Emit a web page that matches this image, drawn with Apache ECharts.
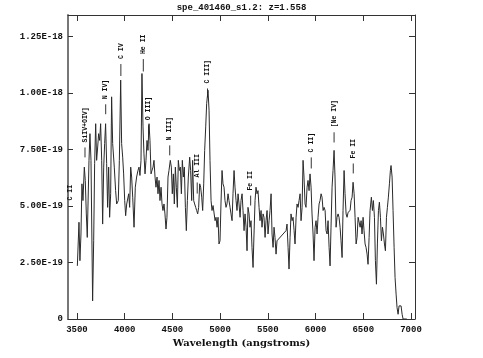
<!DOCTYPE html>
<html>
<head>
<meta charset="utf-8">
<script src="https://cdn.jsdelivr.net/npm/echarts@6/dist/echarts.min.js"></script>
<style>html,body{margin:0;padding:0;background:#fff;}#chart{width:483px;height:358px;}</style>
</head>
<body>
<div id="chart"></div>
<script>
// Wavelength (angstroms)
const wavelengths = [
3504,3521,3531,3542,3552,3563,3577,3587,3598,3608,
3626,3636,3647,3664,3675,3685,3696,3706,3717,3727,
3738,3748,3759,3769,3780,3790,3800,3811,3821,3832,
3842,3853,3863,3874,3891,3905,3916,3933,3944,3958,
3968,3979,3989,4000,4010,4021,4031,4042,4052,4063,
4073,4084,4098,4111,4125,4139,4150,4160,4171,4181,
4192,4202,4213,4223,4234,4244,4255,4265,4276,4286,
4297,4307,4318,4328,4339,4349,4360,4370,4381,4391,
4401,4412,4422,4433,4443,4454,4464,4478,4489,4499,
4510,4520,4531,4541,4552,4562,4573,4583,4594,4604,
4615,4625,4636,4646,4657,4667,4681,4691,4702,4712,
4723,4733,4744,4754,4765,4775,4786,4796,4807,4817,
4828,4838,4849,4859,4873,4884,4894,4905,4915,4926,
4936,4947,4957,4968,4978,4988,4999,5009,5020,5030,
5041,5051,5062,5072,5083,5093,5104,5114,5125,5135,
5146,5156,5167,5177,5188,5198,5209,5219,5230,5240,
5251,5261,5272,5282,5292,5303,5313,5324,5334,5345,
5355,5366,5376,5387,5397,5408,5418,5429,5439,5450,
5460,5471,5481,5492,5502,5513,5523,5534,5544,5555,
5565,5575,5586,5596,5607,5691,5701,5712,5722,5733,
5743,5754,5764,5775,5785,5796,5806,5817,5827,5838,
5848,5859,5869,5879,5890,5900,5911,5921,5932,5942,
5953,5963,5974,5984,5995,6005,6016,6026,6037,6047,
6058,6068,6079,6089,6100,6110,6121,6131,6142,6152,
6162,6173,6183,6194,6204,6215,6225,6236,6246,6257,
6267,6278,6288,6299,6309,6320,6330,6341,6351,6362,
6372,6383,6393,6404,6414,6425,6435,6446,6456,6467,
6477,6487,6498,6508,6519,6529,6540,6550,6561,6571,
6585,6596,6606,6617,6627,6638,6648,6659,6669,6680,
6690,6701,6711,6722,6732,6743,6753,6763,6774,6784,
6791,6802,6812,6823,6833,6844,6854,6865,6875,6886,
6896,6907,6917,6928,6956
];
// Flux in units of 1E-19
const fluxE19 = [
2.35,4.28,2.58,3.76,5.98,5.24,6.72,6.13,4.65,3.61,
7.02,8.20,7.02,0.80,3.46,6.87,8.64,7.02,7.61,8.20,
7.90,8.64,7.02,4.20,6.72,7.76,8.64,6.87,4.94,6.72,
4.50,5.54,9.83,7.76,6.72,5.68,5.09,5.24,7.02,10.57,
7.76,7.16,6.42,5.24,4.57,5.09,5.09,5.54,4.94,6.72,
6.28,5.39,4.06,5.83,6.28,6.57,6.72,6.35,7.02,10.86,
8.50,7.31,6.42,7.02,7.90,7.46,8.64,7.90,6.42,6.57,
6.72,7.02,6.28,5.83,6.28,5.54,6.13,5.24,5.83,5.09,
4.80,5.09,4.65,3.98,4.50,6.28,6.57,7.02,6.72,5.54,
6.42,5.09,6.72,5.83,4.94,7.02,6.57,6.72,5.54,7.02,
6.28,6.72,4.94,3.91,5.24,6.28,7.16,6.57,5.24,7.02,
5.24,5.09,4.94,4.80,4.65,4.94,5.98,5.83,5.39,4.80,
5.98,7.46,8.50,9.53,10.12,9.24,7.02,5.24,4.80,5.02,
4.94,4.35,4.50,4.06,4.50,3.32,3.46,5.09,6.57,5.98,
5.83,5.24,4.94,5.09,5.54,5.24,4.94,4.65,4.35,5.54,
6.57,5.83,5.24,4.80,5.54,5.09,4.50,5.24,5.54,4.80,
3.91,4.65,4.06,3.02,4.94,4.65,4.06,4.35,3.17,2.28,
3.76,5.24,5.83,5.54,5.68,4.94,4.35,4.80,4.06,4.65,
4.50,3.61,4.35,4.80,3.76,4.35,4.80,5.54,3.76,3.17,
4.06,3.61,2.87,3.46,3.39,3.91,4.20,3.17,2.21,3.61,
4.65,4.35,4.50,3.91,3.32,4.50,5.09,4.94,5.24,5.54,
4.35,4.94,7.02,6.28,5.09,4.94,5.83,6.13,5.68,6.42,
5.83,4.65,3.76,2.58,4.06,4.35,3.76,4.50,5.09,5.24,
5.54,5.39,4.80,4.94,4.80,3.91,3.76,4.35,3.17,2.35,
4.06,5.83,6.57,7.46,6.28,4.06,4.50,4.65,4.50,4.06,
3.46,2.72,4.80,6.57,5.54,4.65,4.50,4.72,4.65,4.80,
5.24,5.39,6.05,5.54,4.50,3.32,3.61,4.50,4.50,4.06,
4.35,3.76,4.50,3.91,3.32,3.17,2.87,2.42,3.61,4.80,
5.39,4.80,5.24,4.50,2.58,1.54,3.32,4.80,5.17,4.50,
3.46,4.06,3.76,3.32,3.02,4.50,4.94,5.39,5.98,6.57,
6.79,6.28,4.80,3.17,1.84,1.10,0.50,0.21,0.58,0.65,
0.58,0.21,0.00,0.00,0.00
];
// Emission line markers
const lineNames  = ['C II','SiIV+OIV]','N IV]','C IV','He II','O III]','N III]','Al III','C III]','Fe II','C II]','[Ne IV]','Fe II'];
const lineWaves  = [3427, 3584, 3801, 3960, 4195, 4250, 4472, 4760, 4868, 5320, 5955, 6194, 6395];
const lineLow    = [5.02, 7.15, 9.06, 10.75, 10.95, 8.13, 7.24, 5.55, 9.80, 5.02, 6.66, 7.81, 6.44];
const lineHigh   = [5.02, 7.59, 9.50, 11.28, 11.50, 8.57, 7.68, 6.04, 10.20, 5.46, 7.15, 8.26, 6.88];
const xTicks = [3500, 4000, 4500, 5000, 5500, 6000, 6500, 7000];
const yTicks = [0, 2.5, 5, 7.5, 10, 12.5];
const titleText = 'spe_401460_s1.2: z=1.558';

const spectrum = wavelengths.map((w, i) => [w, fluxE19[i]]);
const markers = lineNames.map((n, i) => [lineWaves[i], lineLow[i], lineHigh[i], n]);

const FONT = 'Liberation Mono';
const fmtY = v => v === 0 ? '0' : (v * 1e-19).toExponential(2).toUpperCase();
const fmtX = v => String(Math.round(v));

const chart = echarts.init(document.getElementById('chart'), null, {renderer: 'canvas'});
const axisLineStyle = {color: '#333', width: 1};
chart.setOption({
  animation: false,
  backgroundColor: '#fff',
  title: {
    text: titleText, left: 'center', top: -2,
    textStyle: {fontFamily: FONT, fontWeight: 'bold', fontSize: 9, color: '#111'}
  },
  grid: {left: 68, right: 68, top: 15, bottom: 39},
  xAxis: [{
    type: 'value', min: 3406, max: 7042, position: 'bottom',
    name: 'Wavelength (angstroms)', nameLocation: 'middle', nameGap: 13,
    nameTextStyle: {fontFamily: 'DejaVu Serif', fontWeight: 'bold', fontSize: 10, color: '#111'},
    axisLine: {show: true, onZero: false, lineStyle: axisLineStyle},
    axisTick: {show: true, inside: true, length: 6, customValues: xTicks, lineStyle: axisLineStyle},
    axisLabel: {show: true, customValues: xTicks, formatter: fmtX, margin: 6, fontFamily: FONT, fontWeight: 'bold', fontSize: 9, color: '#111'},
    splitLine: {show: false}
  }, {
    type: 'value', min: 3406, max: 7042, position: 'top',
    axisLine: {show: true, onZero: false, lineStyle: axisLineStyle},
    axisTick: {show: true, inside: true, length: 6, customValues: xTicks, lineStyle: axisLineStyle},
    axisLabel: {show: false},
    splitLine: {show: false}
  }],
  yAxis: [{
    type: 'value', min: 0, max: 13.45, position: 'left',
    axisLine: {show: true, onZero: false, lineStyle: {color: '#777', width: 2}},
    axisTick: {show: true, inside: true, length: 5, customValues: yTicks, lineStyle: axisLineStyle},
    axisLabel: {show: true, customValues: yTicks, margin: 5, formatter: fmtY, fontFamily: FONT, fontWeight: 'bold', fontSize: 9, color: '#111'},
    splitLine: {show: false}
  }, {
    type: 'value', min: 0, max: 13.45, position: 'right',
    axisLine: {show: true, onZero: false, lineStyle: axisLineStyle},
    axisTick: {show: true, inside: true, length: 6, customValues: yTicks, lineStyle: axisLineStyle},
    axisLabel: {show: false},
    splitLine: {show: false}
  }],
  series: [{
    type: 'line', data: spectrum, xAxisIndex: 0, yAxisIndex: 0,
    showSymbol: false, symbol: 'none', smooth: false,
    lineStyle: {color: '#2a2a2a', width: 1}
  }, {
    type: 'custom', data: markers, xAxisIndex: 0, yAxisIndex: 0,
    renderItem: function (params, api) {
      const w = api.value(0), lo = api.value(1), hi = api.value(2);
      const name = markers[params.dataIndex][3];
      const p0 = api.coord([w, lo]);
      const p1 = api.coord([w, hi]);
      const children = [];
      if (hi > lo) {
        children.push({type: 'line', shape: {x1: p0[0], y1: p0[1], x2: p1[0], y2: p1[1]},
          style: {stroke: '#333', lineWidth: 1}});
      }
      children.push({type: 'text', x: p1[0], y: p1[1] - 5, rotation: Math.PI / 2,
        style: {text: name, align: 'left', verticalAlign: 'middle',
          fontFamily: FONT, fontWeight: 'bold', fontSize: 6.5, fill: '#111'}});
      return {type: 'group', children: children};
    }
  }]
});
</script>
</body>
</html>
